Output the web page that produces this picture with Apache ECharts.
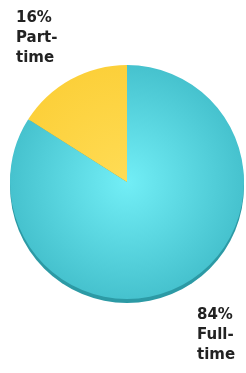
<!DOCTYPE html>
<html>
<head>
<meta charset="utf-8">
<script src="https://cdn.jsdelivr.net/npm/echarts@6/dist/echarts.min.js"></script>
<style>
  html, body { margin: 0; padding: 0; background: #fff; }
  #chart { width: 246px; height: 373px; }
</style>
</head>
<body>
<div id="chart"></div>
<script>
// data
const categories = ["Full-\ntime", "Part-\ntime"];
const values = [84, 16];
const colors = ["#46c2ce", "#fcd03a"];
const centerColors = ["#72eef6", "#ffdc55"];
// where the labels sit (top-left corner)
const labelSpots = [[197, 305], [16, 8]];

const total = values.reduce((a, b) => a + b, 0);

const chart = echarts.init(document.getElementById("chart"));

chart.setOption({
  animation: false,
  series: [
    // darker rim under the pie (fake 3d edge)
    {
      type: "pie",
      silent: true,
      z: 1,
      center: [127, 186],
      radius: 117,
      label: { show: false },
      labelLine: { show: false },
      itemStyle: { color: "#2c9aa5", borderWidth: 0 },
      data: [{ name: "rim", value: total }]
    },
    {
      type: "pie",
      z: 2,
      center: [127, 182],
      radius: 117,
      startAngle: 90,
      clockwise: true,
      data: categories.map((name, i) => ({
        name: name,
        value: values[i],
        itemStyle: {
          color: {
            type: "radial", x: 127, y: 182, r: 117, global: true,
            colorStops: [
              { offset: 0, color: centerColors[i] },
              { offset: 1, color: colors[i] }
            ]
          }
        }
      })),
      itemStyle: { borderWidth: 0 },
      label: {
        show: true,
        position: "outside",
        formatter: p => p.value + "%\n" + p.name,
        fontFamily: "DejaVu Sans, sans-serif",
        fontWeight: "bold",
        fontSize: 15,
        lineHeight: 20,
        color: "#222",
        overflow: "none",
        width: 80
      },
      labelLine: { show: false },
      labelLayout: p => ({
        x: labelSpots[p.dataIndex][0],
        y: labelSpots[p.dataIndex][1],
        align: "left",
        verticalAlign: "top"
      }),
      emphasis: { disabled: true }
    }
  ]
});
</script>
</body>
</html>
